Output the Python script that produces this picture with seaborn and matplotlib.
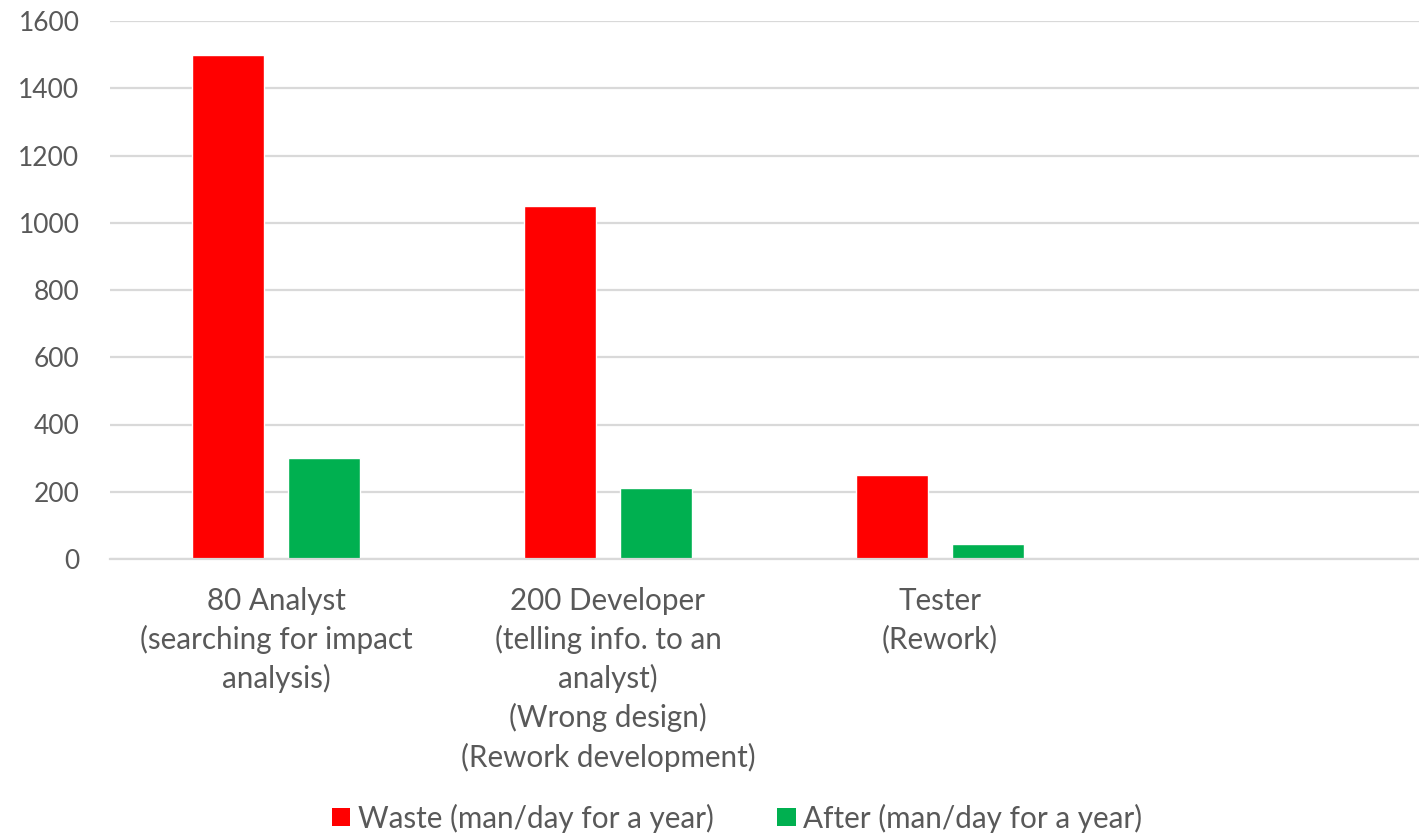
import matplotlib
matplotlib.use("Agg")
import matplotlib.pyplot as plt
from matplotlib.patches import Patch
import seaborn as sns
import pandas as pd

# Categories (the fourth slot is left empty on the axis)
categories = [
    "80 Analyst\n(searching for impact\nanalysis)",
    "200 Developer\n(telling info. to an\nanalyst)\n(Wrong design)\n(Rework development)",
    "Tester\n(Rework)",
    "",
]
series_names = ["Waste (man/day for a year)", "After (man/day for a year)"]
waste_values = [1500, 1050, 250]
after_values = [300, 210, 45]
series_colors = ["#FF0000", "#00B050"]
y_ticks = [0, 200, 400, 600, 800, 1000, 1200, 1400, 1600]

rows = []
for cat, w, a in zip(categories, waste_values, after_values):
    rows.append({"category": cat, "series": series_names[0], "value": w})
    rows.append({"category": cat, "series": series_names[1], "value": a})
df = pd.DataFrame(rows)

sns.set_theme(style="white")
plt.rcParams["font.family"] = ["Lato", "DejaVu Sans"]
text_color = "#595959"
grid_color = "#D9D9D9"

W, H = 1419, 833
fig = plt.figure(figsize=(W / 100, H / 100), dpi=100)
# plot area runs slightly past the right edge of the canvas
ax = fig.add_axes([110 / W, 1 - 559 / H, 1328 / W, (559 - 21) / H])

sns.barplot(
    data=df, x="category", y="value", hue="series",
    order=categories, hue_order=series_names,
    palette=series_colors, width=0.576, gap=0.247,
    saturation=1, ax=ax, legend=False, errorbar=None,
)

ax.set_xlim(-0.5, 3.5)
ax.set_ylim(0, 1600)
ax.set_yticks(y_ticks)
ax.set_yticklabels([str(t) for t in y_ticks])
ax.set_xlabel("")
ax.set_ylabel("")
ax.yaxis.grid(True, color=grid_color, linewidth=1.6)
ax.set_axisbelow(True)
for side in ["top", "right", "left"]:
    ax.spines[side].set_visible(False)
ax.spines["bottom"].set_color(grid_color)
ax.spines["bottom"].set_linewidth(1.6)
ax.tick_params(axis="both", length=0, colors=text_color)
ax.tick_params(axis="y", pad=22, labelsize=19)
ax.tick_params(axis="x", pad=20, labelsize=21.3)
for lbl in ax.get_xticklabels():
    lbl.set_linespacing(1.42)

handles = [Patch(facecolor=c, edgecolor="none") for c in series_colors]
fig.legend(
    handles, series_names, loc="center", ncol=2, frameon=False,
    bbox_to_anchor=(737 / W, 1 - 818 / H), fontsize=21.3, labelcolor=text_color,
    handlelength=0.64, handleheight=0.57, handletextpad=0.24, columnspacing=2.16,
    borderpad=0,
)

fig.savefig("out.png", dpi=100, facecolor="white")
